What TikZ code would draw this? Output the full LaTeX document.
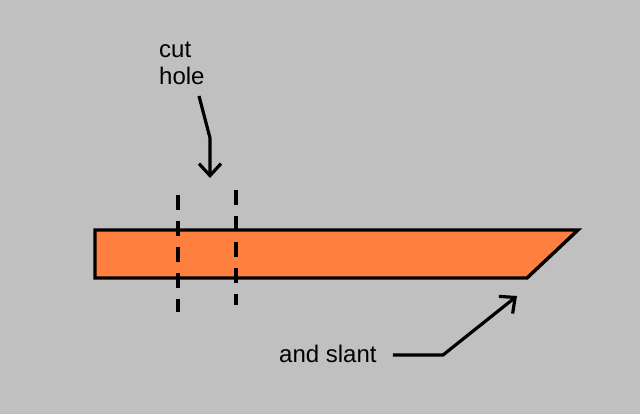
\documentclass[tikz,border=0pt]{standalone}
\usepackage{fontspec}
\setmainfont{Liberation Sans}
\usetikzlibrary{arrows.meta}
\definecolor{bg}{HTML}{C0C0C0}
\definecolor{plank}{HTML}{FF7F3F}
\tikzset{
  lbl/.style={font=\fontsize{24}{27}\selectfont, inner sep=0pt, align=left},
  pointer/.style={line width=3.2pt, -{Straight Barb[length=12pt,width=22pt,line width=3.2pt]}},
  cutline/.style={line width=3.6pt, dash pattern=on 15pt off 11pt},
}
\begin{document}
\begin{tikzpicture}[x=1pt,y=-1pt]
\fill[bg] (0,0) rectangle (640,414);
\useasboundingbox (0,0) rectangle (640,414);
% plank
\filldraw[fill=plank, draw=black, line width=3.4pt, line join=miter]
  (95,230) -- (578,230) -- (527,278) -- (95,278) -- cycle;
% cut lines
\coordinate (c1a) at (178,195); \coordinate (c1b) at (178,312);
\coordinate (c2a) at (236,190); \coordinate (c2b) at (236,305);
\draw[cutline] (c1a) -- (c1b);
\draw[cutline] (c2a) -- (c2b);
% labels
\node[lbl, anchor=base west] (cut) at (159,85) {cut\\hole};
\node[lbl, anchor=base west] (slant) at (279,362) {and slant};
% arrows
\coordinate (cutbend) at (210,138);
\coordinate (cuttip) at (210,178);
\draw[pointer] (199,96) -- (cutbend) -- (cuttip);
\coordinate (sbend) at (443,355);
\coordinate (stip) at (517,296);
\draw[pointer] ([xshift=16pt]slant.east |- sbend) -- (sbend) -- (stip);
\end{tikzpicture}
\end{document}
